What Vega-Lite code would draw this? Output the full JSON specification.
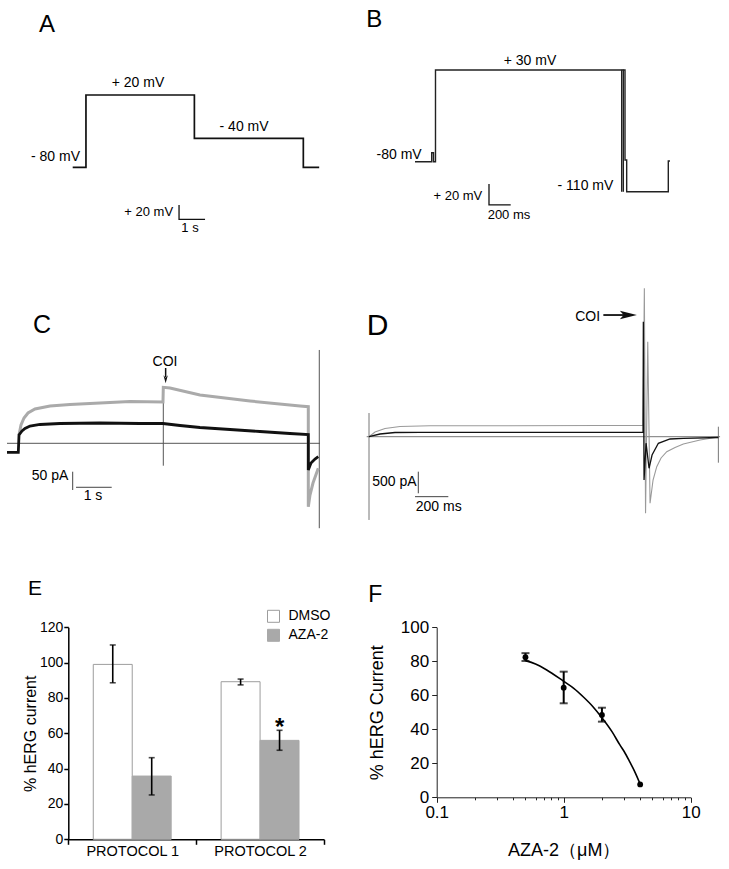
{
  "$schema": "https://vega.github.io/schema/vega-lite/v6.json",
  "width": 729,
  "height": 869,
  "autosize": {"type": "fit", "contains": "padding"},
  "padding": 0,
  "background": "white",
  "config": {
    "view": {"stroke": null},
    "font": "Liberation Sans",
    "text": {"font": "Liberation Sans", "color": "#000000"},
    "axis": {"domainColor": "#000000", "tickColor": "#000000", "labelColor": "#000000", "titleColor": "#000000", "labelFont": "Liberation Sans", "titleFont": "Liberation Sans", "titleFontWeight": "normal", "grid": false},
    "legend": {"labelFont": "Liberation Sans", "labelColor": "#000000"}
  },
  "resolve": {"scale": {"x": "independent", "y": "independent"}, "axis": {"x": "independent", "y": "independent"}},
  "layer": [
    {
      "encoding": {
        "x": {"field": "t", "type": "quantitative", "scale": {"domain": [-2.796, 11.242], "range": [0, 365], "nice": false, "zero": false}, "axis": null},
        "y": {"field": "v", "type": "quantitative", "scale": {"domain": [-222.05, 151.4], "range": [270, 0], "nice": false, "zero": false}, "axis": null}
      },
      "layer": [
        {
          "data": {"values": [
            {"i": 0, "t": 0, "v": -80}, {"i": 1, "t": 0.51, "v": -80}, {"i": 2, "t": 0.51, "v": 20}, {"i": 3, "t": 4.68, "v": 20},
            {"i": 4, "t": 4.68, "v": -40}, {"i": 5, "t": 8.87, "v": -40}, {"i": 6, "t": 8.87, "v": -80}, {"i": 7, "t": 9.48, "v": -80}
          ]},
          "mark": {"type": "line", "color": "#111111", "strokeWidth": 1.7},
          "encoding": {"order": {"field": "i", "type": "quantitative"}}
        },
        {
          "data": {"values": [{"i": 0, "t": 4.09, "v": -132}, {"i": 1, "t": 4.09, "v": -152}, {"i": 2, "t": 5.09, "v": -152}]},
          "mark": {"type": "line", "color": "#111111", "strokeWidth": 1.3},
          "encoding": {"order": {"field": "i", "type": "quantitative"}}
        },
        {
          "data": {"values": [{"t": -1.296, "v": 107.1, "label": "A"}]},
          "mark": {"type": "text", "align": "left", "baseline": "alphabetic", "fontSize": 24},
          "encoding": {"text": {"field": "label"}}
        },
        {
          "data": {"values": [{"t": 2.51, "v": 36.6, "label": "+ 20 mV"}, {"t": 6.59, "v": -23.8, "label": "- 40 mV"}]},
          "mark": {"type": "text", "align": "center", "baseline": "middle", "fontSize": 14},
          "encoding": {"text": {"field": "label"}}
        },
        {
          "data": {"values": [{"t": 0.28, "v": -65.3, "label": "- 80 mV"}]},
          "mark": {"type": "text", "align": "right", "baseline": "middle", "fontSize": 14},
          "encoding": {"text": {"field": "label"}}
        },
        {
          "data": {"values": [{"t": 3.86, "v": -141.8, "label": "+ 20 mV"}]},
          "mark": {"type": "text", "align": "right", "baseline": "middle", "fontSize": 13},
          "encoding": {"text": {"field": "label"}}
        },
        {
          "data": {"values": [{"t": 4.51, "v": -164, "label": "1 s"}]},
          "mark": {"type": "text", "align": "center", "baseline": "middle", "fontSize": 13},
          "encoding": {"text": {"field": "label"}}
        }
      ]
    },
    {
      "encoding": {
        "x": {"field": "t", "type": "quantitative", "scale": {"domain": [-460.8, 2894], "range": [365, 729], "nice": false, "zero": false}, "axis": null},
        "y": {"field": "v", "type": "quantitative", "scale": {"domain": [-209.9, 113.9], "range": [270, 0], "nice": false, "zero": false}, "axis": null}
      },
      "layer": [
        {
          "data": {"values": [
            {"s": 1, "i": 0, "t": 0, "v": -80}, {"s": 1, "i": 1, "t": 153.9, "v": -80}, {"s": 1, "i": 2, "t": 153.9, "v": -69.2},
            {"s": 1, "i": 3, "t": 170.5, "v": -69.2}, {"s": 1, "i": 4, "t": 170.5, "v": -80}, {"s": 1, "i": 5, "t": 188.9, "v": -80},
            {"s": 1, "i": 6, "t": 188.9, "v": 30}, {"s": 1, "i": 7, "t": 1905, "v": 30}, {"s": 1, "i": 8, "t": 1905, "v": -116},
            {"s": 2, "i": 0, "t": 1905, "v": 30}, {"s": 2, "i": 1, "t": 1920, "v": 30}, {"s": 2, "i": 2, "t": 1920, "v": -116},
            {"s": 3, "i": 0, "t": 1920, "v": 30}, {"s": 3, "i": 1, "t": 1935.5, "v": 30}, {"s": 3, "i": 2, "t": 1935.5, "v": -78},
            {"s": 3, "i": 3, "t": 1951, "v": -78}, {"s": 3, "i": 4, "t": 1951, "v": -116}, {"s": 3, "i": 5, "t": 2334.6, "v": -116},
            {"s": 3, "i": 6, "t": 2334.6, "v": -79.2}, {"s": 3, "i": 7, "t": 2350, "v": -79.2}
          ]},
          "mark": {"type": "line", "color": "#222222", "strokeWidth": 1.4},
          "encoding": {"order": {"field": "i", "type": "quantitative"}, "detail": {"field": "s"}}
        },
        {
          "data": {"values": [{"i": 0, "t": 682, "v": -106.7}, {"i": 1, "t": 682, "v": -131.9}, {"i": 2, "t": 882, "v": -131.9}]},
          "mark": {"type": "line", "color": "#111111", "strokeWidth": 1.3},
          "encoding": {"order": {"field": "i", "type": "quantitative"}}
        },
        {
          "data": {"values": [{"t": -450, "v": 81.5, "label": "B"}]},
          "mark": {"type": "text", "align": "left", "baseline": "alphabetic", "fontSize": 24},
          "encoding": {"text": {"field": "label"}}
        },
        {
          "data": {"values": [{"t": 1060, "v": 41.1, "label": "+ 30 mV"}]},
          "mark": {"type": "text", "align": "center", "baseline": "middle", "fontSize": 14},
          "encoding": {"text": {"field": "label"}}
        },
        {
          "data": {"values": [{"t": 61.8, "v": -72, "label": "-80 mV"}, {"t": 1828, "v": -108.8, "label": "- 110 mV"}]},
          "mark": {"type": "text", "align": "right", "baseline": "middle", "fontSize": 14},
          "encoding": {"text": {"field": "label"}}
        },
        {
          "data": {"values": [{"t": 620, "v": -121.1, "label": "+ 20 mV"}]},
          "mark": {"type": "text", "align": "right", "baseline": "middle", "fontSize": 13},
          "encoding": {"text": {"field": "label"}}
        },
        {
          "data": {"values": [{"t": 866, "v": -143.9, "label": "200 ms"}]},
          "mark": {"type": "text", "align": "center", "baseline": "middle", "fontSize": 13},
          "encoding": {"text": {"field": "label"}}
        }
      ]
    },
    {
      "encoding": {
        "x": {"field": "t", "type": "quantitative", "scale": {"domain": [-0.543, 9.886], "range": [0, 365], "nice": false, "zero": false}, "axis": null},
        "y": {"field": "v", "type": "quantitative", "scale": {"domain": [-501.9, 473.5], "range": [627, 270], "nice": false, "zero": false}, "axis": null}
      },
      "layer": [
        {
          "data": {"values": [
            {"s": "base", "i": 0, "t": -0.343, "v": 0}, {"s": "base", "i": 1, "t": 8.6, "v": 0},
            {"s": "coi", "i": 0, "t": 4.123, "v": 154.6}, {"s": "coi", "i": 1, "t": 4.123, "v": -61.2},
            {"s": "end", "i": 0, "t": 8.58, "v": 255}, {"s": "end", "i": 1, "t": 8.58, "v": -232}
          ]},
          "mark": {"type": "line", "color": "#555555", "strokeWidth": 1},
          "encoding": {"order": {"field": "i", "type": "quantitative"}, "detail": {"field": "s"}}
        },
        {
          "data": {"values": [
            {"i": 0, "t": 0, "v": 22.7}, {"i": 1, "t": 0.057, "v": 50}, {"i": 2, "t": 0.143, "v": 69.1}, {"i": 3, "t": 0.257, "v": 82.8},
            {"i": 4, "t": 0.457, "v": 93.7}, {"i": 5, "t": 0.886, "v": 101.9}, {"i": 6, "t": 1.457, "v": 106}, {"i": 7, "t": 2.314, "v": 110.1},
            {"i": 8, "t": 3.171, "v": 114.2}, {"i": 9, "t": 4.114, "v": 112.8}, {"i": 10, "t": 4.123, "v": 153}, {"i": 11, "t": 4.314, "v": 151},
            {"i": 12, "t": 5.171, "v": 132}, {"i": 13, "t": 6.6, "v": 115.6}, {"i": 14, "t": 8.03, "v": 102}, {"i": 15, "t": 8.266, "v": 100},
            {"i": 16, "t": 8.266, "v": -173.2}, {"i": 17, "t": 8.314, "v": -141.3}, {"i": 18, "t": 8.4, "v": -108.5}, {"i": 19, "t": 8.551, "v": -68.3}
          ]},
          "mark": {"type": "line", "color": "#aaaaaa", "strokeWidth": 3},
          "encoding": {"order": {"field": "i", "type": "quantitative"}}
        },
        {
          "data": {"values": [
            {"i": 0, "t": -0.343, "v": -24.6}, {"i": 1, "t": -0.02, "v": -24.6}, {"i": 2, "t": 0, "v": 22.7}, {"i": 3, "t": 0.086, "v": 33.6},
            {"i": 4, "t": 0.171, "v": 40.4}, {"i": 5, "t": 0.314, "v": 47.3}, {"i": 6, "t": 0.6, "v": 51.4}, {"i": 7, "t": 1.171, "v": 54.1},
            {"i": 8, "t": 2.314, "v": 55.5}, {"i": 9, "t": 3.457, "v": 54.1}, {"i": 10, "t": 4.114, "v": 54.1}, {"i": 11, "t": 4.6, "v": 48.6},
            {"i": 12, "t": 5.17, "v": 43.2}, {"i": 13, "t": 6.03, "v": 37.7}, {"i": 14, "t": 6.886, "v": 32.2}, {"i": 15, "t": 7.74, "v": 26.8},
            {"i": 16, "t": 8.266, "v": 24}, {"i": 17, "t": 8.266, "v": -73}, {"i": 18, "t": 8.343, "v": -53.8}, {"i": 19, "t": 8.457, "v": -42.9},
            {"i": 20, "t": 8.551, "v": -36.6}
          ]},
          "mark": {"type": "line", "color": "#111111", "strokeWidth": 2.8},
          "encoding": {"order": {"field": "i", "type": "quantitative"}}
        },
        {
          "data": {"values": [
            {"s": "v", "i": 0, "t": 1.534, "v": -77.6}, {"s": "v", "i": 1, "t": 1.534, "v": -127.6},
            {"s": "h", "i": 0, "t": 1.629, "v": -120.2}, {"s": "h", "i": 1, "t": 2.649, "v": -120.2}
          ]},
          "mark": {"type": "line", "color": "#444444", "strokeWidth": 1},
          "encoding": {"order": {"field": "i", "type": "quantitative"}, "detail": {"field": "s"}}
        },
        {
          "data": {"values": [{"i": 0, "t": 4.19, "v": 205.7}, {"i": 1, "t": 4.19, "v": 181}]},
          "mark": {"type": "line", "color": "#111111", "strokeWidth": 1.5},
          "encoding": {"order": {"field": "i", "type": "quantitative"}}
        },
        {
          "data": {"values": [{"t": 4.19, "v": 174.9}]},
          "mark": {"type": "point", "shape": "M -0.55 -1 L 0 1 L 0.55 -1 L 0 -0.4 Z", "filled": true, "color": "#111111", "opacity": 1, "size": 64}
        },
        {
          "data": {"values": [{"t": 0.4, "v": 301.4, "label": "C"}]},
          "mark": {"type": "text", "align": "left", "baseline": "alphabetic", "fontSize": 25},
          "encoding": {"text": {"field": "label"}}
        },
        {
          "data": {"values": [{"t": 0.257, "v": -414.5, "label": "E"}]},
          "mark": {"type": "text", "align": "left", "baseline": "alphabetic", "fontSize": 21},
          "encoding": {"text": {"field": "label"}}
        },
        {
          "data": {"values": [{"t": 4.171, "v": 223, "label": "COI"}, {"t": 2.114, "v": -144, "label": "1 s"}]},
          "mark": {"type": "text", "align": "center", "baseline": "middle", "fontSize": 14},
          "encoding": {"text": {"field": "label"}}
        },
        {
          "data": {"values": [{"t": 1.409, "v": -88.5, "label": "50 pA"}]},
          "mark": {"type": "text", "align": "right", "baseline": "middle", "fontSize": 14},
          "encoding": {"text": {"field": "label"}}
        }
      ]
    },
    {
      "encoding": {
        "x": {"field": "t", "type": "quantitative", "scale": {"domain": [-24, 2159.6], "range": [365, 729], "nice": false, "zero": false}, "axis": null},
        "y": {"field": "v", "type": "quantitative", "scale": {"domain": [-4394.9, 3849.9], "range": [627, 270], "nice": false, "zero": false}, "axis": null}
      },
      "layer": [
        {
          "data": {"values": [
            {"s": "base", "i": 0, "t": -13.8, "v": 0}, {"s": "base", "i": 1, "t": 2106, "v": 0},
            {"s": "left", "i": 0, "t": 0, "v": 547}, {"s": "left", "i": 1, "t": 0, "v": -1923},
            {"s": "right", "i": 0, "t": 2095.8, "v": 230.9}, {"s": "right", "i": 1, "t": 2095.8, "v": -600.3}
          ]},
          "mark": {"type": "line", "color": "#777777", "strokeWidth": 1},
          "encoding": {"order": {"field": "i", "type": "quantitative"}, "detail": {"field": "s"}}
        },
        {
          "data": {"values": [
            {"i": 0, "t": 0, "v": 0}, {"i": 1, "t": 36, "v": 108.5}, {"i": 2, "t": 96, "v": 189}, {"i": 3, "t": 186, "v": 235.5},
            {"i": 4, "t": 366, "v": 251.7}, {"i": 5, "t": 786, "v": 254}, {"i": 6, "t": 1386, "v": 258.6}, {"i": 7, "t": 1644, "v": 258.6},
            {"i": 8, "t": 1651.8, "v": 3426.6}, {"i": 9, "t": 1659, "v": -1768.7}, {"i": 10, "t": 1672.2, "v": 2193.6}, {"i": 11, "t": 1686, "v": -1537.8},
            {"i": 12, "t": 1704, "v": -999.8}, {"i": 13, "t": 1726.2, "v": -692.7}, {"i": 14, "t": 1752, "v": -491.8}, {"i": 15, "t": 1786.2, "v": -346.4},
            {"i": 16, "t": 1836, "v": -249.4}, {"i": 17, "t": 1885.8, "v": -168.6}, {"i": 18, "t": 1986, "v": -76.2}, {"i": 19, "t": 2086.2, "v": -13.9}
          ]},
          "mark": {"type": "line", "color": "#9a9a9a", "strokeWidth": 1.1},
          "encoding": {"order": {"field": "i", "type": "quantitative"}}
        },
        {
          "data": {"values": [
            {"i": 0, "t": 0, "v": 0}, {"i": 1, "t": 66, "v": 62}, {"i": 2, "t": 156, "v": 97}, {"i": 3, "t": 306, "v": 101.6},
            {"i": 4, "t": 1644, "v": 101.6}, {"i": 5, "t": 1645.8, "v": 2655}, {"i": 6, "t": 1650, "v": -999.8}, {"i": 7, "t": 1662, "v": -150},
            {"i": 8, "t": 1680, "v": -729.6}, {"i": 9, "t": 1698, "v": -422.5}, {"i": 10, "t": 1735.8, "v": -152.4}, {"i": 11, "t": 1806, "v": -53.1},
            {"i": 12, "t": 1885.8, "v": -36.9}, {"i": 13, "t": 2096, "v": -18.5}
          ]},
          "mark": {"type": "line", "color": "#111111", "strokeWidth": 1.3},
          "encoding": {"order": {"field": "i", "type": "quantitative"}}
        },
        {
          "data": {"values": [
            {"s": "v", "i": 0, "t": 295.8, "v": -808}, {"s": "v", "i": 1, "t": 295.8, "v": -1307},
            {"s": "h", "i": 0, "t": 276, "v": -1385}, {"s": "h", "i": 1, "t": 475.8, "v": -1385}
          ]},
          "mark": {"type": "line", "color": "#444444", "strokeWidth": 1},
          "encoding": {"order": {"field": "i", "type": "quantitative"}, "detail": {"field": "s"}}
        },
        {
          "data": {"values": [{"i": 0, "t": 1405.8, "v": 2810}, {"i": 1, "t": 1536, "v": 2810}]},
          "mark": {"type": "line", "color": "#111111", "strokeWidth": 1.8},
          "encoding": {"order": {"field": "i", "type": "quantitative"}}
        },
        {
          "data": {"values": [{"t": 1555.8, "v": 2810}]},
          "mark": {"type": "point", "shape": "M -1 -0.5 L 1 0 L -1 0.5 L -0.55 0 Z", "filled": true, "color": "#111111", "opacity": 1, "size": 289}
        },
        {
          "data": {"values": [{"t": -13.8, "v": 2348, "label": "D"}]},
          "mark": {"type": "text", "align": "left", "baseline": "alphabetic", "fontSize": 30},
          "encoding": {"text": {"field": "label"}}
        },
        {
          "data": {"values": [{"t": 1386, "v": 2771, "label": "COI"}, {"t": 286, "v": -1039, "label": "500 pA"}]},
          "mark": {"type": "text", "align": "right", "baseline": "middle", "fontSize": 14},
          "encoding": {"text": {"field": "label"}}
        },
        {
          "data": {"values": [{"t": 418, "v": -1616, "label": "200 ms"}]},
          "mark": {"type": "text", "align": "center", "baseline": "middle", "fontSize": 14},
          "encoding": {"text": {"field": "label"}}
        }
      ]
    },
    {
      "data": {"values": [
        {"protocol": "PROTOCOL 1", "group": "DMSO", "mean": 99, "lo": 88.6, "hi": 110},
        {"protocol": "PROTOCOL 1", "group": "AZA-2", "mean": 35.8, "lo": 25.1, "hi": 46.2},
        {"protocol": "PROTOCOL 2", "group": "DMSO", "mean": 89.2, "lo": 87.4, "hi": 90.7},
        {"protocol": "PROTOCOL 2", "group": "AZA-2", "mean": 56, "lo": 50.4, "hi": 61.7}
      ]},
      "encoding": {
        "x": {"field": "protocol", "type": "nominal", "scale": {"range": [68.3, 324], "paddingInner": 0, "paddingOuter": 0}, "axis": {"orient": "bottom", "offset": -29.7, "title": null, "labelAngle": 0, "tickBand": "extent", "labelFontSize": 14.5, "labelPadding": 0, "tickSize": 5, "domainWidth": 1.5, "tickWidth": 1.5}},
        "xOffset": {"field": "group", "type": "nominal", "sort": ["DMSO", "AZA-2"], "scale": {"paddingInner": 0, "paddingOuter": 0.641}}
      },
      "layer": [
        {
          "mark": {"type": "bar", "strokeWidth": 1},
          "encoding": {
            "y": {"field": "mean", "type": "quantitative", "scale": {"domain": [0, 120], "range": [839.3, 627.3], "nice": false}, "axis": {"orient": "left", "offset": -68.3, "values": [0, 20, 40, 60, 80, 100, 120], "title": "% hERG current", "titleFontSize": 16, "labelFontSize": 14, "tickSize": 4.5, "labelPadding": 1, "titlePadding": 1, "domainWidth": 1.5, "tickWidth": 1.5}},
            "fill": {"field": "group", "type": "nominal", "sort": ["DMSO", "AZA-2"], "scale": {"domain": ["DMSO", "AZA-2"], "range": ["#ffffff", "#a9a9a9"]}, "legend": {"orient": "none", "legendX": 266.5, "legendY": 609.3, "title": null, "symbolType": "square", "symbolSize": 144, "labelFontSize": 14, "rowPadding": 3, "labelOffset": 8, "padding": 0, "symbolStrokeWidth": 1}},
            "stroke": {"field": "group", "type": "nominal", "sort": ["DMSO", "AZA-2"], "scale": {"domain": ["DMSO", "AZA-2"], "range": ["#9d9d9d", "#a9a9a9"]}, "legend": {"orient": "none", "legendX": 266.5, "legendY": 609.3, "title": null, "symbolType": "square", "symbolSize": 144, "labelFontSize": 14, "rowPadding": 3, "labelOffset": 8, "padding": 0, "symbolStrokeWidth": 1}}
          }
        },
        {
          "mark": {"type": "rule", "color": "#000000", "strokeWidth": 1.6},
          "encoding": {"y": {"field": "lo", "type": "quantitative", "title": "% hERG current"}, "y2": {"field": "hi"}}
        },
        {
          "mark": {"type": "tick", "orient": "horizontal", "color": "#000000", "size": 6, "thickness": 1.6},
          "encoding": {"y": {"field": "lo", "type": "quantitative", "title": "% hERG current"}}
        },
        {
          "mark": {"type": "tick", "orient": "horizontal", "color": "#000000", "size": 6, "thickness": 1.6},
          "encoding": {"y": {"field": "hi", "type": "quantitative", "title": "% hERG current"}}
        },
        {
          "data": {"values": [{"protocol": "PROTOCOL 2", "group": "AZA-2", "ypos": 59.3, "label": "*"}]},
          "mark": {"type": "text", "align": "center", "baseline": "alphabetic", "fontSize": 24, "fontWeight": "bold"},
          "encoding": {"y": {"field": "ypos", "type": "quantitative", "title": "% hERG current"}, "text": {"field": "label"}}
        }
      ]
    },
    {
      "encoding": {
        "x": {"field": "conc", "type": "quantitative", "scale": {"type": "log", "domain": [0.1, 10], "range": [436.7, 690.7], "nice": false}, "axis": {
          "orient": "bottom", "offset": -71.7,
          "values": [0.1, 0.2, 0.3, 0.4, 0.5, 0.6, 0.7, 0.8, 0.9, 1, 2, 3, 4, 5, 6, 7, 8, 9, 10],
          "labelExpr": "datum.value == 0.1 ? '0.1' : datum.value == 1 ? '1' : datum.value == 10 ? '10' : ''",
          "tickSize": {"condition": {"test": "datum.value == 0.1 || datum.value == 1 || datum.value == 10", "value": 5}, "value": 2.5},
          "title": "AZA-2（μM）", "titleFontSize": 18, "labelFontSize": 17, "labelPadding": 2, "titlePadding": 21,
          "labelOverlap": false, "labelFlush": false, "domainColor": "#222222", "tickColor": "#222222"}},
        "y": {"field": "pct", "type": "quantitative", "title": "% hERG Current", "scale": {"domain": [0, 100], "range": [797.3, 627.3], "nice": false}, "axis": {
          "orient": "left", "offset": -436.7,
          "values": [0, 20, 40, 60, 80, 100], "title": "% hERG Current", "titleFontSize": 18, "labelFontSize": 17, "tickSize": 5,
          "labelPadding": 3, "titlePadding": 14, "domainColor": "#222222", "tickColor": "#222222"}}
      },
      "layer": [
        {
          "data": {"values": [
            {"conc": 0.5, "pct": 80.4}, {"conc": 0.6, "pct": 78.4}, {"conc": 0.735, "pct": 74.9}, {"conc": 1, "pct": 68.2},
            {"conc": 1.2, "pct": 64.1}, {"conc": 1.43, "pct": 59}, {"conc": 1.7, "pct": 53.3}, {"conc": 2, "pct": 46.8},
            {"conc": 2.4, "pct": 38.6}, {"conc": 2.77, "pct": 30.8}, {"conc": 3, "pct": 26.8}, {"conc": 3.33, "pct": 20.5},
            {"conc": 3.6, "pct": 15.6}, {"conc": 4, "pct": 7.8}
          ]},
          "mark": {"type": "line", "color": "#000000", "strokeWidth": 1.6, "interpolate": "monotone"}
        },
        {
          "data": {"values": [
            {"conc": 0.5, "pct": 82.4, "lo": 80.2, "hi": 84.8},
            {"conc": 1, "pct": 64.5, "lo": 55.3, "hi": 73.9},
            {"conc": 2, "pct": 48.4, "lo": 44.5, "hi": 52.7},
            {"conc": 4, "pct": 7.6, "lo": 7.6, "hi": 7.6}
          ]},
          "layer": [
            {
              "mark": {"type": "rule", "color": "#000000", "strokeWidth": 2},
              "encoding": {"y": {"field": "lo", "type": "quantitative", "title": "% hERG Current"}, "y2": {"field": "hi"}}
            },
            {
              "mark": {"type": "tick", "orient": "horizontal", "color": "#000000", "size": 8, "thickness": 2},
              "transform": [{"filter": "datum.hi > datum.lo"}],
              "encoding": {"y": {"field": "lo", "type": "quantitative", "title": "% hERG Current"}}
            },
            {
              "mark": {"type": "tick", "orient": "horizontal", "color": "#000000", "size": 8, "thickness": 2},
              "transform": [{"filter": "datum.hi > datum.lo"}],
              "encoding": {"y": {"field": "hi", "type": "quantitative", "title": "% hERG Current"}}
            },
            {
              "mark": {"type": "point", "filled": true, "color": "#000000", "opacity": 1, "size": 34}
            }
          ]
        },
        {
          "data": {"values": [{"conc": 0.02893, "pct": 115.1, "label": "F"}]},
          "mark": {"type": "text", "align": "left", "baseline": "alphabetic", "fontSize": 23},
          "encoding": {"text": {"field": "label"}}
        }
      ]
    }
  ]
}
